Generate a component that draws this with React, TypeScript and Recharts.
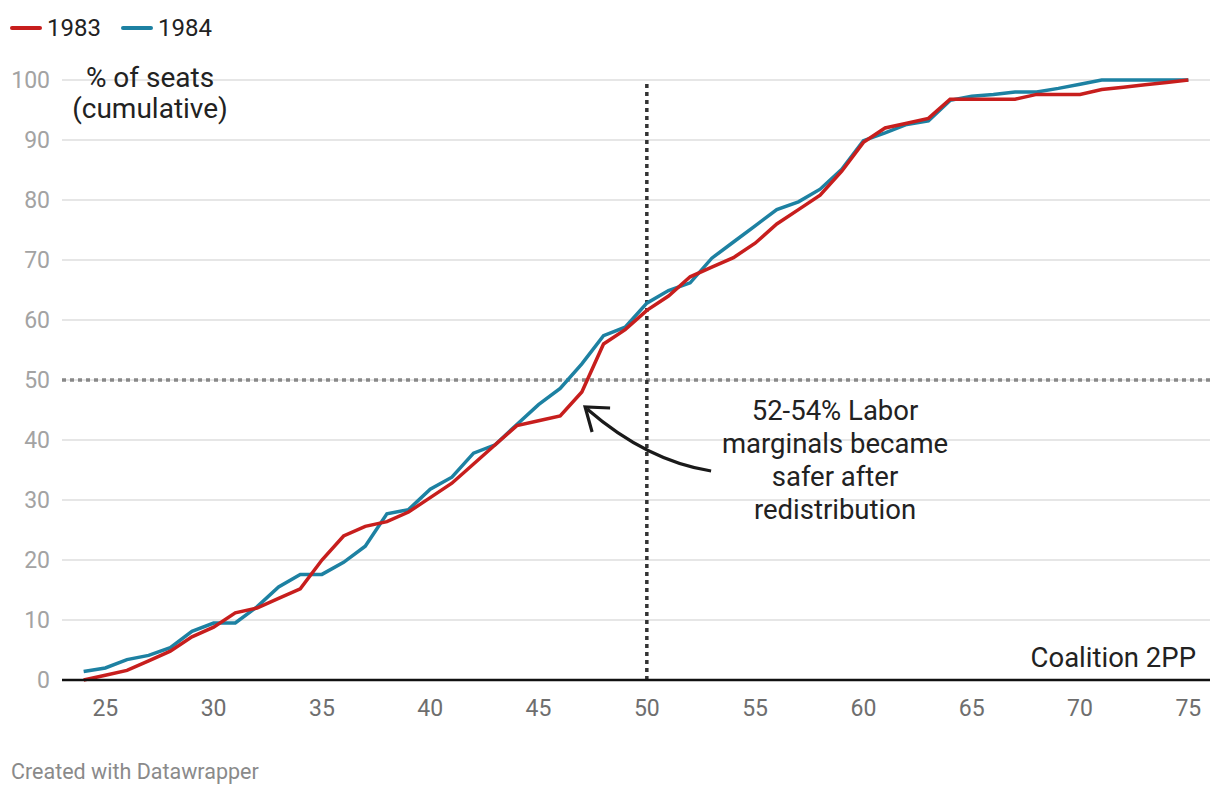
import React from 'react';
import { LineChart, Line, XAxis, YAxis, CartesianGrid, ReferenceLine, ReferenceDot } from 'recharts';

const xValues = [24, 25, 26, 27, 28, 29, 30, 31, 32, 33, 34, 35, 36, 37, 38, 39, 40, 41, 42, 43, 44, 45, 46, 47, 48, 49, 50, 51, 52, 53, 54, 55, 56, 57, 58, 59, 60, 61, 62, 63, 64, 65, 66, 67, 68, 69, 70, 71, 72, 73, 74, 75];

const seats1983 = [0, 0.8, 1.6, 3.2, 4.8, 7.2, 8.8, 11.2, 12, 13.6, 15.2, 20, 24, 25.6, 26.4, 28, 30.4, 32.8, 36, 39.2, 42.4, 43.2, 44, 48, 56, 58.4, 61.6, 64, 67.2, 68.8, 70.4, 72.8, 76, 78.4, 80.8, 84.8, 89.6, 92, 92.8, 93.6, 96.8, 96.8, 96.8, 96.8, 97.6, 97.6, 97.6, 98.4, 98.8, 99.2, 99.6, 100];

const seats1984 = [1.4, 2.0, 3.4, 4.1, 5.4, 8.1, 9.5, 9.5, 12.2, 15.5, 17.6, 17.6, 19.6, 22.3, 27.7, 28.4, 31.8, 33.8, 37.8, 39.2, 42.6, 45.9, 48.6, 52.7, 57.4, 58.8, 62.8, 64.9, 66.2, 70.3, 73.0, 75.7, 78.4, 79.7, 81.8, 85.1, 89.9, 91.2, 92.6, 93.2, 96.6, 97.3, 97.6, 98.0, 98.0, 98.6, 99.3, 100, 100, 100, 100, 100];

const xTicks = [25, 30, 35, 40, 45, 50, 55, 60, 65, 70, 75];
const yTicks = [0, 10, 20, 30, 40, 50, 60, 70, 80, 90, 100];

const RED = '#c71e1d';
const BLUE = '#1d81a2';
const FONT = 'Roboto, "Noto Sans", sans-serif';

const data = xValues.map((x, i) => ({ x, y1983: seats1983[i], y1984: seats1984[i] }));

// curved arrow, tip sits on the annotated point
const ArrowShape = (props: any) => {
  const { cx, cy } = props;
  if (cx == null || cy == null) return null;
  return (
    <g fill="none" stroke="#1a1a1a" strokeWidth={3.2}>
      <path d={`M${cx + 126},${cy + 64} Q${cx + 62},${cy + 54} ${cx + 2},${cy + 2}`} />
      <path d={`M${cx + 25},${cy + 1} L${cx},${cy} L${cx + 7},${cy + 25}`} strokeLinejoin="miter" />
    </g>
  );
};

export default function App() {
  return (
    <div style={{ position: 'absolute', left: 0, top: 0, width: 1220, height: 796, background: '#fff', fontFamily: FONT }}>
      <div style={{ position: 'absolute', left: 10, top: 12, height: 32, display: 'flex', alignItems: 'center', fontSize: 24, color: '#222' }}>
        <span style={{ display: 'inline-block', width: 32, height: 3.5, borderRadius: 2, background: RED, marginRight: 5 }} />
        <span>1983</span>
        <span style={{ display: 'inline-block', width: 32, height: 3.5, borderRadius: 2, background: BLUE, marginLeft: 20, marginRight: 5 }} />
        <span>1984</span>
      </div>

      <LineChart width={1220} height={796} data={data} margin={{ top: 80, right: 10, left: 0, bottom: 0 }}>
        <CartesianGrid horizontal vertical={false} stroke="#e6e6e6" strokeWidth={2} />
        <XAxis
          dataKey="x"
          type="number"
          domain={[23, 76]}
          ticks={xTicks}
          height={116}
          tickLine={false}
          tickMargin={14}
          axisLine={{ stroke: '#111', strokeWidth: 2.5 }}
          tick={{ fill: '#6e6e6e', fontSize: 23, fontFamily: FONT }}
          allowDataOverflow
        />
        <YAxis
          type="number"
          domain={[0, 100]}
          ticks={yTicks}
          width={62}
          tickLine={false}
          axisLine={false}
          tickMargin={6}
          tick={{ fill: '#a3a3a3', fontSize: 23, fontFamily: FONT }}
        />
        <ReferenceLine y={50} stroke="#888" strokeWidth={3.5} strokeDasharray="4 4" />
        <ReferenceLine x={50} stroke="#333" strokeWidth={3.5} strokeDasharray="4 4" />
        <Line type="linear" dataKey="y1984" stroke={BLUE} strokeWidth={3.5} dot={false} isAnimationActive={false} />
        <Line type="linear" dataKey="y1983" stroke={RED} strokeWidth={3.5} dot={false} isAnimationActive={false} />
        <ReferenceDot x={47.15} y={45.5} r={0} shape={ArrowShape} />
      </LineChart>

      <div style={{ position: 'absolute', left: 50, width: 200, top: 62, lineHeight: '31px', fontSize: 28, color: '#222', textAlign: 'center' }}>
        % of seats<br />(cumulative)
      </div>
      <div style={{ position: 'absolute', left: 685, width: 300, top: 394, lineHeight: '33px', fontSize: 27.5, color: '#222', textAlign: 'center' }}>
        52-54% Labor<br />marginals became<br />safer after<br />redistribution
      </div>
      <div style={{ position: 'absolute', right: 24, top: 643, lineHeight: '30px', fontSize: 27.5, color: '#222', whiteSpace: 'nowrap' }}>
        Coalition 2PP
      </div>
      <div style={{ position: 'absolute', left: 11, top: 760, lineHeight: '24px', fontSize: 21.5, color: '#8a8a8a' }}>
        Created with Datawrapper
      </div>
    </div>
  );
}
